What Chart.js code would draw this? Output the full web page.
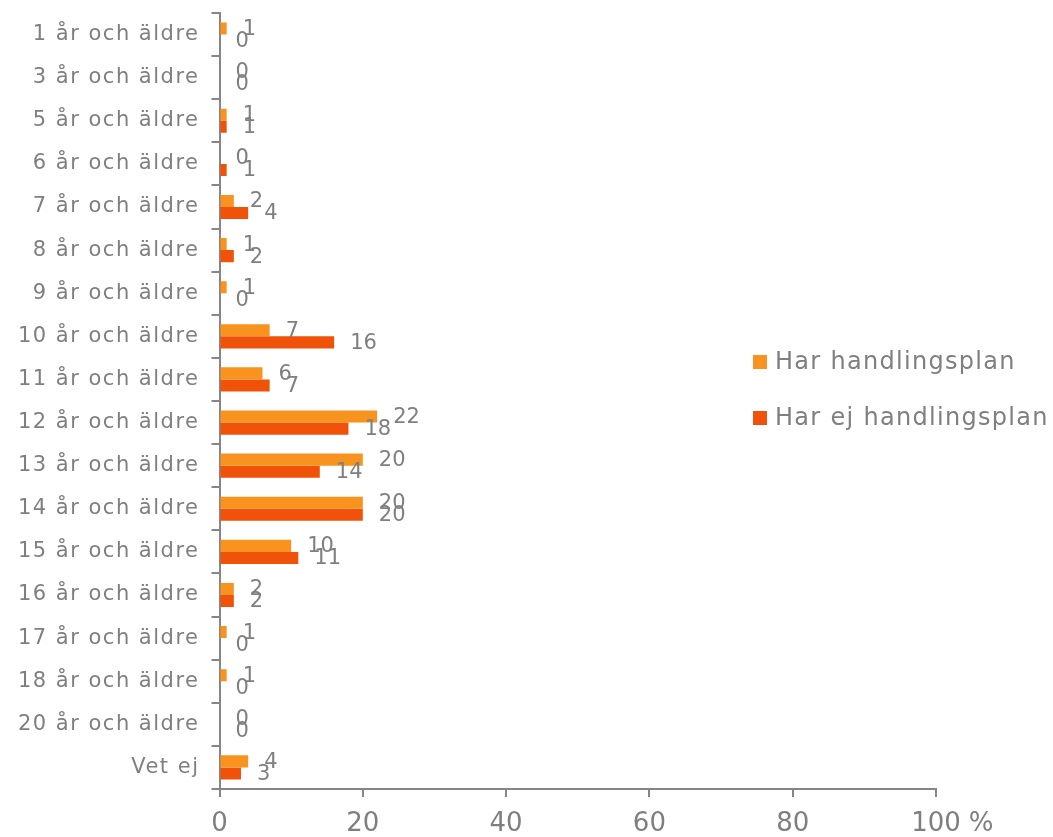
<!DOCTYPE html>
<html>
<head>
<meta charset="utf-8">
<script src="https://cdn.jsdelivr.net/npm/chart.js@4.4.1/dist/chart.umd.min.js"></script>
<style>
  html, body { margin: 0; padding: 0; background: #fff; }
  #wrap { width: 1053px; height: 837px; }
</style>
</head>
<body>
<div id="wrap"><canvas id="chart" width="1053" height="837"></canvas></div>
<script>
const categories = [
  "1 år och äldre", "3 år och äldre", "5 år och äldre", "6 år och äldre",
  "7 år och äldre", "8 år och äldre", "9 år och äldre", "10 år och äldre",
  "11 år och äldre", "12 år och äldre", "13 år och äldre", "14 år och äldre",
  "15 år och äldre", "16 år och äldre", "17 år och äldre", "18 år och äldre",
  "20 år och äldre", "Vet ej"
];
const harPlan   = [1, 0, 1, 0, 2, 1, 1, 7, 6, 22, 20, 20, 10, 2, 1, 1, 0, 4];
const harEjPlan = [0, 0, 1, 1, 4, 2, 0, 16, 7, 18, 14, 20, 11, 2, 0, 0, 0, 3];
const seriesNames = ["Har handlingsplan", "Har ej handlingsplan"];
const seriesColors = ["#F7931E", "#F0520A"];
const xTicks = [0, 20, 40, 60, 80, 100];

const textGray = "#7f7f7f";
const axisGray = "#868686";
const FONT = "'DejaVu Sans', Verdana, sans-serif";

// labels next to bars, custom legend and the "%" after 100
const labelsPlugin = {
  id: "labels",
  beforeDraw(chart) {
    chart.ctx.letterSpacing = "0px";
  },
  afterDatasetsDraw(chart) {
    const ctx = chart.ctx;
    ctx.save();
    ctx.font = "21px " + FONT;
    ctx.fillStyle = textGray;
    ctx.textAlign = "left";
    ctx.textBaseline = "middle";
    chart.data.datasets.forEach((ds, i) => {
      chart.getDatasetMeta(i).data.forEach((bar, j) => {
        ctx.fillText(String(ds.data[j]), bar.x + 16, bar.y + 1);
      });
    });
    ctx.restore();
    // y labels are drawn after this point (ticks.z = 1), a bit wider like the original
    ctx.letterSpacing = "1.5px";
  },
  afterDraw(chart) {
    const ctx = chart.ctx;
    ctx.save();
    ctx.letterSpacing = "1.3px";
    ctx.font = "24px " + FONT;
    ctx.textAlign = "left";
    ctx.textBaseline = "middle";
    chart.data.datasets.forEach((ds, i) => {
      const yc = 362 + i * 56;
      ctx.fillStyle = ds.backgroundColor;
      ctx.fillRect(753, yc - 7, 14, 14);
      ctx.fillStyle = textGray;
      ctx.fillText(ds.label, 775, yc + 1);
    });

    const xs = chart.scales.x;
    ctx.letterSpacing = "0px";
    ctx.font = "26px " + FONT;
    ctx.fillStyle = textGray;
    const px = xs.getPixelForValue(100);
    ctx.fillText("%", px + ctx.measureText("100").width / 2 + 8, xs.top + 8 + 14 + 13);
    ctx.restore();
    ctx.letterSpacing = "0px";
  }
};

new Chart(document.getElementById("chart"), {
  type: "bar",
  data: {
    labels: categories,
    datasets: [
      { label: seriesNames[0], data: harPlan, backgroundColor: seriesColors[0] },
      { label: seriesNames[1], data: harEjPlan, backgroundColor: seriesColors[1] }
    ]
  },
  options: {
    indexAxis: "y",
    responsive: false,
    devicePixelRatio: 1,
    animation: false,
    events: [],
    categoryPercentage: 0.56,
    barPercentage: 1,
    layout: { padding: { top: 13, right: 117, bottom: 0, left: 0 } },
    plugins: {
      legend: { display: false },
      tooltip: { enabled: false }
    },
    scales: {
      x: {
        min: 0,
        max: 100,
        grid: { drawOnChartArea: false, tickLength: 8, color: axisGray, lineWidth: 2 },
        border: { color: axisGray, width: 2 },
        ticks: {
          color: textGray,
          font: { size: 26, family: FONT, lineHeight: 1 },
          padding: 14,
          maxRotation: 0
        },
        afterBuildTicks(s) { s.ticks = xTicks.map(v => ({ value: v })); },
        afterFit(s) { s.height = 48; }
      },
      y: {
        offset: true,
        grid: { offset: true, drawOnChartArea: false, tickLength: 8, color: axisGray, lineWidth: 2 },
        border: { color: axisGray, width: 2 },
        ticks: {
          z: 1,
          color: textGray,
          font: { size: 21, family: FONT },
          padding: 12,
          autoSkip: false
        },
        afterFit(s) {
          s.width = 219.5;
          s.paddingTop = 0;
          s.paddingBottom = 0;
        }
      }
    }
  },
  plugins: [labelsPlugin]
});
</script>
</body>
</html>
